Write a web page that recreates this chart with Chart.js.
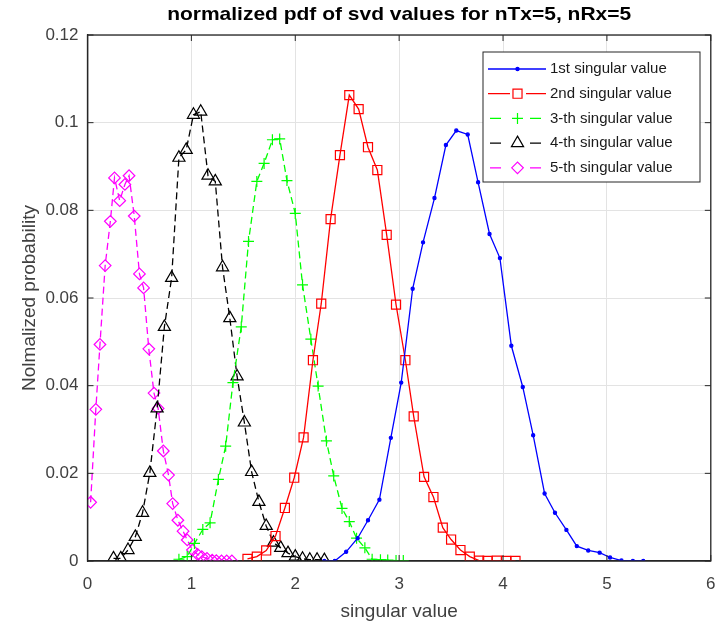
<!DOCTYPE html>
<html>
<head>
<meta charset="utf-8">
<script src="https://cdn.jsdelivr.net/npm/chart.js@4.4.1/dist/chart.umd.min.js"></script>
<style>
  html, body { margin: 0; padding: 0; background: #ffffff; }
  #c { display: block; }
</style>
</head>
<body>
<canvas id="c" width="719" height="628"></canvas>
<script>
// ---- data ----
const chartTitle = 'normalized pdf of svd values for nTx=5, nRx=5';
const xAxisTitle = 'singular value';
const yAxisTitle = 'Nolmalized probability';
const seriesLabels = ['1st singular value', '2nd singular value', '3-th singular value', '4-th singular value', '5-th singular value'];
const xTicks = [0, 1, 2, 3, 4, 5, 6];
const yTicks = [0, 0.02, 0.04, 0.06, 0.08, 0.1, 0.12];

const s1X = [2.28,2.38,2.49,2.60,2.70,2.81,2.92,3.02,3.13,3.23,3.34,3.45,3.55,3.66,3.76,3.87,3.97,4.08,4.19,4.29,4.40,4.50,4.61,4.71,4.82,4.93,5.03,5.14,5.25,5.35];
const s1Y = [0,0,0.0021,0.0052,0.0093,0.0140,0.0281,0.0407,0.0621,0.0727,0.0828,0.0949,0.0982,0.0973,0.0864,0.0746,0.0691,0.0491,0.0397,0.0287,0.0154,0.0110,0.0071,0.0034,0.0024,0.0019,0.0008,0.0001,0,0];

const s2X = [1.54,1.63,1.72,1.81,1.90,1.99,2.08,2.17,2.25,2.34,2.43,2.52,2.61,2.70,2.79,2.88,2.97,3.06,3.14,3.24,3.33,3.42,3.50,3.59,3.68,3.77,3.85,3.94,4.03,4.12];
const s2Y = [0.0005,0.0010,0.0024,0.0057,0.0121,0.0190,0.0282,0.0458,0.0587,0.0780,0.0926,0.1063,0.1031,0.0944,0.0892,0.0744,0.0585,0.0458,0.0330,0.0192,0.0146,0.0076,0.0049,0.0025,0.0010,0.0001,0,0.0001,0,0];

const s3X = [0.88,0.96,1.03,1.11,1.18,1.26,1.33,1.40,1.48,1.55,1.63,1.70,1.78,1.85,1.92,2.00,2.07,2.15,2.22,2.30,2.37,2.45,2.52,2.59,2.67,2.74,2.82,2.89,2.97,3.04];
const s3Y = [0.0004,0.0010,0.0040,0.0072,0.0087,0.0186,0.0262,0.0407,0.0534,0.0729,0.0866,0.0907,0.0961,0.0963,0.0868,0.0793,0.0630,0.0506,0.0399,0.0274,0.0194,0.0120,0.0090,0.0052,0.0030,0.0004,0.0003,0.0002,0.0001,0.0001];

const s4X = [0.25,0.32,0.39,0.46,0.53,0.60,0.67,0.74,0.81,0.88,0.95,1.02,1.09,1.16,1.23,1.30,1.37,1.44,1.51,1.58,1.65,1.72,1.79,1.86,1.93,2.00,2.07,2.14,2.21,2.28];
const s4Y = [0.0006,0.0006,0.0025,0.0055,0.0110,0.0201,0.0348,0.0534,0.0646,0.0920,0.0938,0.1018,0.1025,0.0879,0.0866,0.0670,0.0554,0.0421,0.0316,0.0203,0.0135,0.0080,0.0042,0.0030,0.0018,0.0010,0.0005,0.0003,0.0003,0.0002];

const s5X = [0.03,0.08,0.12,0.17,0.22,0.26,0.31,0.36,0.40,0.45,0.50,0.54,0.59,0.64,0.68,0.73,0.78,0.82,0.87,0.92,0.96,1.01,1.06,1.10,1.15,1.20,1.24,1.29,1.34,1.39];
const s5Y = [0.0134,0.0346,0.0494,0.0674,0.0775,0.0874,0.0822,0.0859,0.0879,0.0787,0.0655,0.0623,0.0484,0.0383,0.0348,0.0251,0.0196,0.0131,0.0093,0.0068,0.0048,0.0025,0.0015,0.0010,0.0006,0.0002,0.0001,0,0,0];

// ---- styling ----
const FONT = "'Liberation Sans', Arial, sans-serif";
const toPts = (xs, ys) => xs.map((x, i) => ({ x: x, y: ys[i] }));

const styles = [
  { color: '#0000ff', pointStyle: 'circle', radius: 1.6, dash: [], fill: true },
  { color: '#ff0000', pointStyle: 'rect', radius: 6.4, dash: [], fill: false },
  { color: '#00ff00', pointStyle: 'cross', radius: 5.5, dash: [7, 4], fill: false },
  { color: '#000000', pointStyle: 'triangle', radius: 7, dash: [7, 4], fill: false },
  { color: '#ff00ff', pointStyle: 'rectRot', radius: 5.8, dash: [7, 4], fill: false }
];
const xsAll = [s1X, s2X, s3X, s4X, s5X];
const ysAll = [s1Y, s2Y, s3Y, s4Y, s5Y];

const datasets = seriesLabels.map((lab, i) => ({
  label: lab,
  data: toPts(xsAll[i], ysAll[i]),
  borderColor: styles[i].color,
  backgroundColor: styles[i].fill ? styles[i].color : 'rgba(0,0,0,0)',
  borderWidth: 1.3,
  borderDash: styles[i].dash,
  pointStyle: styles[i].pointStyle,
  pointRadius: styles[i].radius,
  pointBorderWidth: 1.2,
  pointBorderColor: styles[i].color,
  pointBackgroundColor: styles[i].fill ? styles[i].color : 'rgba(0,0,0,0)',
  tension: 0,
  showLine: true,
  fill: false
}));

// ---- custom drawing: title, box, inward ticks, legend ----
const framePlugin = {
  id: 'frame',
  afterDraw(chart) {
    const ctx = chart.ctx;
    const a = chart.chartArea;
    ctx.save();
    // title
    ctx.font = 'bold 19px ' + FONT;
    ctx.fillStyle = '#000000';
    ctx.textAlign = 'center';
    ctx.textBaseline = 'middle';
    const w = ctx.measureText(chartTitle).width;
    const sx = 464 / w;
    ctx.translate((a.left + a.right) / 2, 15);
    ctx.scale(sx, 1);
    ctx.fillText(chartTitle, 0, 0);
    ctx.restore();

    ctx.save();
    // box
    ctx.strokeStyle = '#262626';
    ctx.lineWidth = 1.3;
    ctx.strokeRect(a.left, a.top, a.right - a.left, a.bottom - a.top);
    // inward ticks
    const xs = chart.scales.x, ys = chart.scales.y;
    const tl = 6;
    ctx.lineWidth = 1;
    ctx.beginPath();
    xTicks.forEach(v => {
      const px = xs.getPixelForValue(v);
      ctx.moveTo(px, a.bottom); ctx.lineTo(px, a.bottom - tl);
      ctx.moveTo(px, a.top); ctx.lineTo(px, a.top + tl);
    });
    yTicks.forEach(v => {
      const py = ys.getPixelForValue(v);
      ctx.moveTo(a.left, py); ctx.lineTo(a.left + tl, py);
      ctx.moveTo(a.right, py); ctx.lineTo(a.right - tl, py);
    });
    ctx.stroke();

    // legend
    const lx = 483, ly = 52, lw = 217, lh = 130;
    ctx.fillStyle = '#ffffff';
    ctx.fillRect(lx, ly, lw, lh);
    ctx.strokeStyle = '#262626';
    ctx.lineWidth = 1;
    ctx.strokeRect(lx, ly, lw, lh);
    ctx.font = '15px ' + FONT;
    ctx.textAlign = 'left';
    ctx.textBaseline = 'middle';
    chart.data.datasets.forEach((ds, i) => {
      const cy = ly + 17 + i * 24.7;
      ctx.save();
      ctx.strokeStyle = ds.borderColor;
      ctx.lineWidth = 1.3;
      ctx.setLineDash(ds.borderDash && ds.borderDash.length ? [11, 9] : []);
      ctx.lineDashOffset = ds.borderDash && ds.borderDash.length ? -2 : 0;
      ctx.beginPath();
      ctx.moveTo(488, cy); ctx.lineTo(546, cy);
      ctx.stroke();
      ctx.restore();
      ctx.save();
      ctx.strokeStyle = ds.pointBorderColor;
      ctx.fillStyle = ds.pointBackgroundColor;
      ctx.lineWidth = 1.2;
      if (ds.pointStyle !== 'circle') {
        ctx.fillStyle = '#ffffff';
        ctx.fillRect(510, cy - 7, 16, 14);
        ctx.fillStyle = ds.pointBackgroundColor;
      }
      Chart.helpers.drawPoint(ctx, { pointStyle: ds.pointStyle, radius: ds.pointRadius, rotation: 0, borderWidth: 1.2 }, 517.5, cy);
      ctx.restore();
      ctx.fillStyle = '#1a1a1a';
      const tw = ctx.measureText(ds.label).width;
      ctx.save();
      ctx.translate(550, cy);
      ctx.scale(Math.min(1, 134 / tw), 1);
      ctx.fillText(ds.label, 0, 0);
      ctx.restore();
    });
    ctx.restore();
  }
};

const fmt = v => (v === 0 ? '0' : String(parseFloat(Number(v).toFixed(4))));

new Chart(document.getElementById('c'), {
  type: 'scatter',
  data: { datasets: datasets },
  options: {
    responsive: false,
    animation: false,
    devicePixelRatio: 1,
    layout: { padding: { left: 18, right: 5, top: 35, bottom: 5 } },
    plugins: {
      legend: { display: false },
      title: { display: false },
      tooltip: { enabled: false }
    },
    scales: {
      x: {
        type: 'linear',
        min: 0, max: 6,
        afterBuildTicks: s => { s.ticks = xTicks.map(v => ({ value: v })); },
        afterFit: s => { s.height = 62; s.paddingLeft = 0; s.paddingRight = 0; },
        ticks: { callback: fmt, font: { family: FONT, size: 17 }, color: '#404040', padding: 13, maxRotation: 0 },
        grid: { color: '#e3e3e3', lineWidth: 1, drawTicks: false },
        border: { display: true, color: '#262626', width: 1.3 },
        title: { display: true, text: xAxisTitle, font: { family: FONT, size: 19 }, color: '#404040', padding: 0 }
      },
      y: {
        type: 'linear',
        min: 0, max: 0.12,
        afterBuildTicks: s => { s.ticks = yTicks.map(v => ({ value: v })); },
        afterFit: s => { s.width = 69.5; s.paddingTop = 0; s.paddingBottom = 0; },
        ticks: { callback: fmt, font: { family: FONT, size: 17 }, color: '#404040', padding: 9 },
        grid: { color: '#e3e3e3', lineWidth: 1, drawTicks: false },
        border: { display: true, color: '#262626', width: 1.3 },
        title: { display: true, text: yAxisTitle, font: { family: FONT, size: 19 }, color: '#404040', padding: 0 }
      }
    }
  },
  plugins: [framePlugin]
});
</script>
</body>
</html>
